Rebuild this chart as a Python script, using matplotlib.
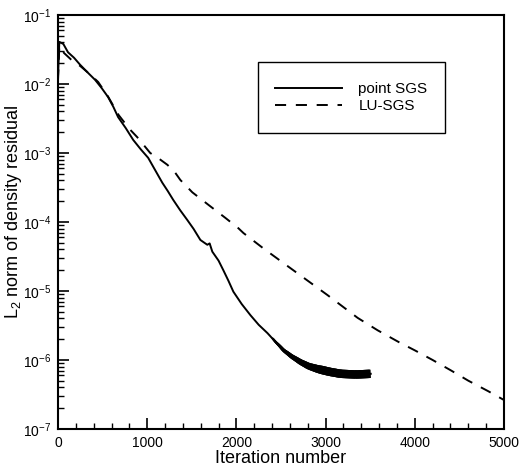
import numpy as np
import matplotlib
matplotlib.use("Agg")
import matplotlib.pyplot as plt
from matplotlib.collections import LineCollection
from matplotlib.patches import Rectangle
from matplotlib.ticker import LogLocator, MultipleLocator, NullFormatter

plt.rcParams['font.family'] = ['Liberation Sans', 'DejaVu Sans']
plt.rcParams['mathtext.fontset'] = 'custom'
plt.rcParams['mathtext.rm'] = 'Liberation Sans'
plt.rcParams['mathtext.it'] = 'Liberation Sans:italic'
plt.rcParams['mathtext.bf'] = 'Liberation Sans:bold'
plt.rcParams['lines.scale_dashes'] = False

# ---- data ----
sgs_iter = [0, 15, 60, 112, 180, 247, 330, 416, 490, 562, 620, 674, 760, 843, 930,
            1011, 1090, 1169, 1230, 1292, 1370, 1449, 1520, 1596, 1640, 1674, 1700,
            1730, 1800, 1854, 1910, 1966, 2060, 2157, 2250, 2348, 2440, 2528, 2620,
            2719, 2810, 2910, 3040, 3169, 3340, 3506]
sgs_log = [-1.9, -1.39, -1.42, -1.54, -1.62, -1.72, -1.83, -1.94, -2.06, -2.19, -2.33,
           -2.48, -2.64, -2.81, -2.95, -3.07, -3.25, -3.43, -3.55, -3.68, -3.83, -3.97,
           -4.10, -4.26, -4.30, -4.33, -4.31, -4.43, -4.56, -4.70, -4.85, -5.01, -5.19,
           -5.35, -5.49, -5.61, -5.74, -5.86, -5.95, -6.03, -6.09, -6.13, -6.17, -6.20,
           -6.21, -6.20]
lu_iter = [0, 15, 67, 150, 250, 350, 450, 560, 680, 800, 888, 1034, 1130, 1225, 1300,
           1371, 1506, 1685, 1876, 2022, 2079, 2300, 2607, 3022, 3360, 3584, 3820, 4000,
           4200, 4404, 4600, 4820, 5000]
lu_log = [-1.95, -1.45, -1.55, -1.65, -1.74, -1.85, -1.97, -2.18, -2.45, -2.65, -2.77,
          -3.0, -3.08, -3.17, -3.26, -3.39, -3.57, -3.75, -3.94, -4.09, -4.16, -4.38,
          -4.67, -5.06, -5.39, -5.57, -5.74, -5.86, -6.0, -6.15, -6.30, -6.45, -6.58]

sgs_x = np.array(sgs_iter, float)
sgs_y = 10.0 ** np.array(sgs_log)
lu_x = np.array(lu_iter, float)
lu_y = 10.0 ** np.array(lu_log)

fig = plt.figure(figsize=(5.24, 4.74), dpi=100)
ax = fig.add_axes([58/524, 1-429/474, (504-58)/524, (429-15)/474])

ax.plot(sgs_x, sgs_y, color='black', lw=1.4, label='point SGS')
ax.plot(lu_x, lu_y, color='black', lw=1.4, dashes=(8, 7), label='LU-SGS')

# thickening (oscillating) tail of point SGS
tx = np.linspace(2400, sgs_x[-1], 160)
ty = np.interp(tx, sgs_x, sgs_y)
pts = np.column_stack([tx, ty]).reshape(-1, 1, 2)
segs = np.concatenate([pts[:-3], pts[3:]], axis=1)
w = np.clip(1.4 + (tx[:-3] - 2400) / (2950 - 2400) * 4.6, 1.4, 6.0)
lc = LineCollection(segs, linewidths=w, colors='black', capstyle='butt')
ax.add_collection(lc)

ax.set_yscale('log')
ax.set_xlim(0, 5000)
ax.set_ylim(1e-7, 1e-1)
ax.xaxis.set_major_locator(MultipleLocator(1000))
ax.xaxis.set_minor_locator(MultipleLocator(200))
ax.yaxis.set_major_locator(LogLocator(base=10, numticks=20))
ax.yaxis.set_minor_locator(LogLocator(base=10, subs=np.arange(2, 10), numticks=20))
ax.yaxis.set_minor_formatter(NullFormatter())

ax.tick_params(which='major', direction='in', length=8, width=1.2, labelsize=10,
               top=False, right=False, pad=5)
ax.tick_params(which='minor', direction='in', length=4.5, width=1.0,
               top=False, right=False)
for s in ax.spines.values():
    s.set_linewidth(1.5)

ax.set_xlabel('Iteration number', fontsize=13, labelpad=0)
ax.set_ylabel('L$_2$ norm of density residual', fontsize=13)
ax.yaxis.set_label_coords((24 - 58) / 446, (429 - 212) / 414)

# legend with a plain rectangular frame
leg = ax.legend(loc='upper left', bbox_to_anchor=((275-58)/446, 1-(82-15)/414),
                frameon=False, fontsize=11, handlelength=4.4, handletextpad=1.05,
                labelspacing=0.2, borderaxespad=0, borderpad=0)
rect = Rectangle((258/524, 1-133/474), (445-258)/524, (133-62)/474,
                 transform=fig.transFigure, fill=False, edgecolor='black', lw=1.0)
fig.patches.append(rect)

fig.savefig('out.png', dpi=100)
